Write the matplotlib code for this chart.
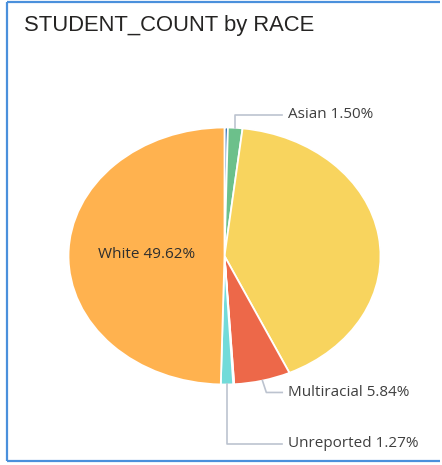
import numpy as np
import matplotlib.pyplot as plt
from matplotlib.lines import Line2D

# student counts by race, percent of total (clockwise from 12 o'clock)
races = ['Native American', 'Asian', 'Hispanic', 'Multiracial',
         'Pacific Islander', 'Unreported', 'White']
shares = [0.35, 1.50, 41.32, 5.84, 0.10, 1.27, 49.62]
colors = ['#2f6db3', '#6cc08b', '#f8d45e', '#ed6849',
          '#7b5fc9', '#72dbd9', '#ffb24f']

# outside labels: race -> label height (axes data units)
outside = {'Asian': 1.10, 'Multiracial': -1.062, 'Unreported': -1.46}
inside = ['White']

fig = plt.figure(figsize=(4.42, 4.65), dpi=100)

# card border: top, left and bottom edges, open on the right
left, right, top, bottom = 7.5 / 442, 440 / 442, 1 - 2 / 465, 1 - 461 / 465
for xs, ys in [([left, right], [top, top]),
               ([left, left], [top, bottom]),
               ([left, right], [bottom, bottom])]:
    fig.lines.append(Line2D(xs, ys, transform=fig.transFigure,
                            color='#4a90dc', linewidth=1.6,
                            solid_capstyle='butt'))

fig.text(24 / 442, 1 - 26 / 465, 'STUDENT_COUNT by RACE',
         fontsize=15.8, family='Liberation Sans', color='#252423',
         va='center', ha='left')

ax = fig.add_axes([68.5 / 442, 1 - 384.5 / 465, 312 / 442, 257 / 465])
wedges, _ = ax.pie(shares, colors=colors, startangle=90, counterclock=False,
                   radius=1.0, wedgeprops=dict(edgecolor='white', linewidth=1.3))
ax.set_aspect('auto')
ax.set_xlim(-1, 1)
ax.set_ylim(-1, 1)
ax.axis('off')

label_font = dict(family=['Open Sans', 'DejaVu Sans'], fontsize=11,
                  color='#3f3f3f')

for w, race, val in zip(wedges, races, shares):
    mid = np.deg2rad((w.theta1 + w.theta2) / 2)
    ex, ey = np.cos(mid), np.sin(mid)
    text = f'{race} {val:.2f}%'
    if race in outside:
        ly = outside[race]
        bend_x = ex + 0.025 * np.sign(ex) if abs(ex) > 0.1 else ex
        ax.plot([ex, bend_x, 0.37], [ey, ly, ly], color='#bcc3cf',
                linewidth=1.2, clip_on=False)
        ax.text(0.408, ly, text, ha='left', va='center', **label_font)
    elif race in inside:
        ax.text(ex * 0.5, 0.01, text, ha='center', va='center',
                family=['Open Sans', 'DejaVu Sans'], fontsize=11,
                color='#2e2e2e')

fig.savefig('out.png', dpi=100)
